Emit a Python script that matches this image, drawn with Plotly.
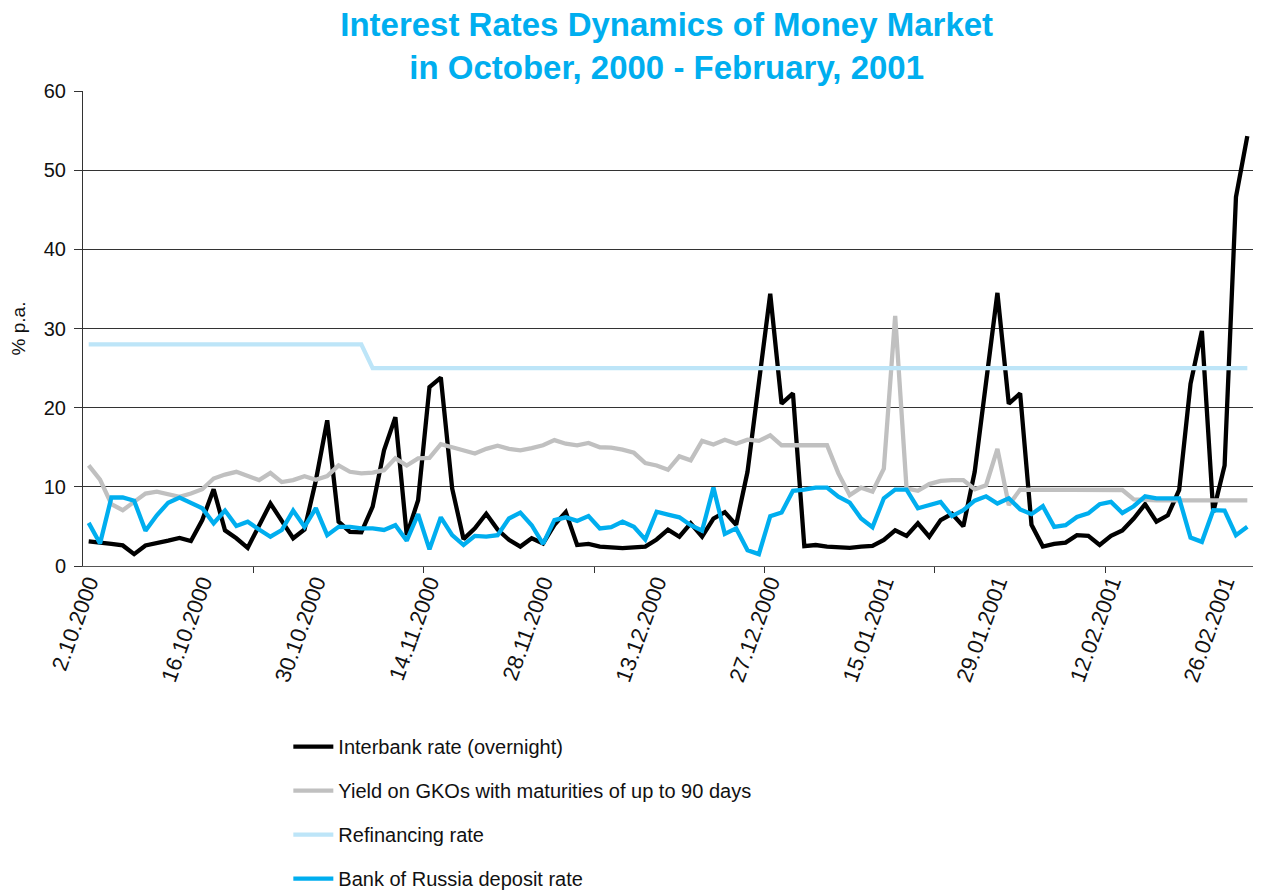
import plotly.graph_objects as go

# daily observations, 2.10.2000 .. 28.02.2001 (103 trading days), % p.a.
INTERBANK = [
    3.1, 3.0, 2.8, 2.6, 1.5, 2.6, 2.85, 3.2, 3.55, 3.15,
    5.8, 9.7, 4.5, 3.5, 2.3, 5.0, 7.9, 5.7, 3.5, 4.6,
    10.8, 18.4, 5.6, 4.3, 4.25, 7.5, 14.6, 18.8, 3.9, 8.3,
    22.6, 23.8, 9.8, 3.4, 4.75, 6.6, 4.6, 3.3, 2.45, 3.5,
    2.85, 5.2, 6.8, 2.65, 2.8, 2.45, 2.3, 2.25, 2.35, 2.45,
    3.35, 4.6, 3.7, 5.4, 3.7, 6.0, 6.8, 5.2, 11.9, 23.5,
    34.4, 20.5, 21.8, 2.5, 2.65, 2.45, 2.35, 2.3, 2.45, 2.55,
    3.3, 4.5, 3.8, 5.4, 3.7, 5.8, 6.6, 5.0, 11.9, 23.0,
    34.5, 20.5, 21.8, 5.2, 2.45, 2.8, 2.95, 3.9, 3.8, 2.65,
    3.8, 4.5, 6.0, 7.8, 5.6, 6.4, 9.6, 23.0, 29.7, 6.8,
    12.7, 46.6, 54.3,
]
GKO_90 = [
    12.7, 10.9, 7.8, 7.05, 8.1, 9.15, 9.4, 9.1, 8.75, 9.15,
    9.7, 11.05, 11.55, 11.9, 11.35, 10.85, 11.75, 10.6, 10.85, 11.35,
    10.9, 11.35, 12.7, 11.9, 11.7, 11.8, 12.1, 13.6, 12.7, 13.6,
    13.65, 15.4, 15.0, 14.6, 14.2, 14.8, 15.2, 14.8, 14.6, 14.9,
    15.25, 15.9, 15.45, 15.25, 15.55, 15.0, 14.95, 14.7, 14.3, 13.0,
    12.7, 12.15, 13.85, 13.35, 15.8, 15.35, 15.95, 15.45, 15.95, 15.8,
    16.5, 15.25, 15.25, 15.25, 15.25, 15.25, 11.7, 8.95, 9.9, 9.4,
    12.3, 31.6, 9.8, 9.5, 10.35, 10.75, 10.85, 10.85, 9.7, 10.2,
    14.8, 7.7, 9.65, 9.65, 9.65, 9.65, 9.65, 9.65, 9.65, 9.65,
    9.65, 9.6, 8.4, 8.3, 8.3, 8.3, 8.3, 8.3, 8.3, 8.3,
    8.3, 8.3, 8.3,
]
REFINANCING = [28.0] * 25 + [25.0] * 78
DEPOSIT = [
    5.45, 2.85, 8.65, 8.65, 8.25, 4.45, 6.4, 8.0, 8.65, 8.0,
    7.3, 5.4, 7.0, 5.05, 5.6, 4.6, 3.7, 4.55, 7.0, 4.95,
    7.3, 3.9, 4.95, 4.95, 4.75, 4.75, 4.55, 5.15, 3.2, 6.55,
    2.1, 6.15, 3.9, 2.65, 3.8, 3.7, 3.9, 6.0, 6.75, 5.15,
    2.8, 5.8, 6.15, 5.7, 6.3, 4.75, 4.9, 5.6, 4.95, 3.35,
    6.85, 6.5, 6.15, 5.15, 4.45, 9.9, 4.05, 4.75, 2.0, 1.5,
    6.3, 6.75, 9.5, 9.65, 9.9, 9.9, 8.75, 8.0, 6.0, 4.9,
    8.55, 9.65, 9.65, 7.3, 7.7, 8.1, 6.3, 7.05, 8.25, 8.8,
    7.9, 8.55, 7.15, 6.55, 7.55, 4.95, 5.15, 6.2, 6.65, 7.8,
    8.1, 6.7, 7.55, 8.8, 8.55, 8.55, 8.55, 3.6, 3.05, 7.05,
    7.0, 3.9, 4.95,
]
TICK_LABELS = [
    "2.10.2000", "16.10.2000", "30.10.2000", "14.11.2000", "28.11.2000",
    "13.12.2000", "27.12.2000", "15.01.2001", "29.01.2001", "12.02.2001",
    "26.02.2001",
]

SERIES = [
    ("Interbank rate (overnight)", INTERBANK, "#000000"),
    ("Yield on GKOs with maturities of up to 90 days", GKO_90, "#C0C0C0"),
    ("Refinancing rate", REFINANCING, "#BDE5F8"),
    ("Bank of Russia deposit rate", DEPOSIT, "#00AEEF"),
]

FONT = "Liberation Sans, Arial, sans-serif"

x = list(range(len(INTERBANK)))

fig = go.Figure()
for k, (name, values, color) in enumerate(SERIES):
    fig.add_trace(go.Scatter(
        x=x, y=values, name=name, mode="lines",
        legendgroup=str(k),
        line=dict(color=color, width=4.3, shape="linear"),
    ))

# the page body adds an 8px margin, so the figure is a bit smaller than the window
fig.update_layout(
    width=1257, height=884,
    margin=dict(l=75, r=12, t=83, b=326, autoexpand=False),
    paper_bgcolor="white", plot_bgcolor="white",
    font=dict(family=FONT, size=20, color="#111111"),
    title=dict(
        text="Interest Rates Dynamics of Money Market<br>in October, 2000 - February, 2001",
        x=0.524, xanchor="center", y=0.9683, yanchor="top",
        font=dict(family=FONT, size=33, color="#00AEEF", weight="bold"),
    ),
    showlegend=True,
    legend=dict(
        orientation="v", x=0.1755, xanchor="left", y=-0.339, yanchor="top",
        traceorder="grouped", tracegroupgap=15,
        font=dict(family=FONT, size=20, color="#111111"),
        itemwidth=40,
    ),
)

fig.update_xaxes(
    range=[-0.5, 102.5],
    tickmode="array",
    tickvals=[i * 10 for i in range(len(TICK_LABELS))],
    ticktext=TICK_LABELS,
    tickangle=-70,
    ticks="",
    ticklabelstandoff=-6,
    showgrid=False, zeroline=False,
    showline=True, linecolor="#555555", linewidth=1,
    minor=dict(
        tickmode="array",
        tickvals=[14.5 + 15 * j for j in range(6)],
        ticks="outside", ticklen=6, tickcolor="#333333", showgrid=False,
    ),
    tickfont=dict(size=22),
)
fig.update_yaxes(
    range=[0, 60], dtick=10,
    ticks="outside", ticklen=8, tickcolor="#333333",
    ticklabelstandoff=4,
    showgrid=True, gridcolor="#333333", gridwidth=1,
    zeroline=False,
    showline=True, linecolor="#333333", linewidth=1,
    title=dict(text="% p.a.", font=dict(size=19), standoff=14),
    tickfont=dict(size=20),
)

fig.write_html("out.html")
